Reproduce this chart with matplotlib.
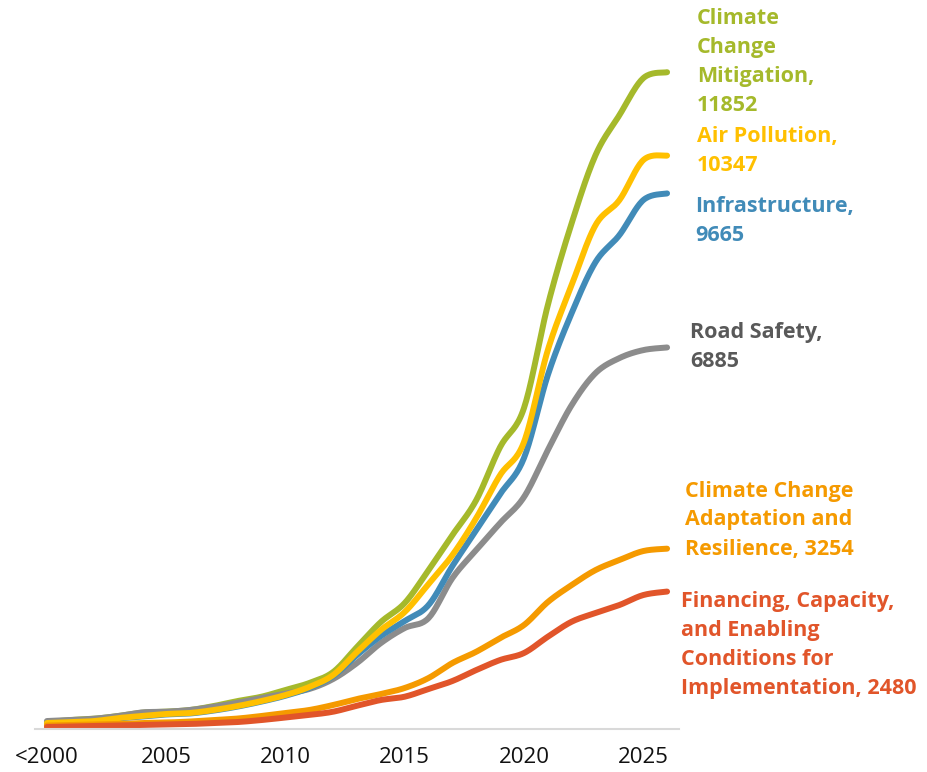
import numpy as np
import matplotlib
matplotlib.use("Agg")
import matplotlib.pyplot as plt

plt.rcParams['font.family'] = ['Open Sans', 'DejaVu Sans']

# ---- data -------------------------------------------------------------
categories = ['<2000'] + [str(y) for y in range(2001, 2027)]
tick_labels = ['<2000', '2005', '2010', '2015', '2020', '2025']

mitigation = [126, 162, 186, 235, 294, 312, 343, 415, 505, 583, 704, 830, 1028,
              1479, 1930, 2273, 2868, 3500, 4131, 5087, 5791, 7649, 9128,
              10355, 11076, 11744, 11852]
road_safety = [144, 162, 186, 235, 300, 312, 343, 402, 474, 559, 640, 722, 902,
               1191, 1551, 1822, 2002, 2724, 3229, 3716, 4185, 5033, 5845,
               6422, 6693, 6837, 6885]
infrastructure = [100, 118, 136, 190, 225, 262, 280, 333, 405, 495, 600, 740, 956,
                  1335, 1678, 1948, 2237, 2941, 3590, 4239, 4889, 6386, 7505,
                  8425, 8912, 9543, 9665]
air_pollution = [108, 126, 144, 198, 235, 271, 289, 343, 415, 505, 613, 758, 974,
                 1389, 1786, 2111, 2616, 3139, 3806, 4582, 5177, 6837, 8010,
                 9092, 9543, 10265, 10347]
adaptation = [63, 72, 81, 90, 108, 117, 135, 162, 189, 235, 289, 343, 433,
              541, 631, 740, 920, 1191, 1394, 1642, 1876, 2291, 2598,
              2868, 3049, 3211, 3254]
financing = [36, 45, 54, 63, 72, 81, 90, 108, 126, 162, 207, 253, 312,
             420, 523, 583, 722, 866, 1064, 1245, 1371, 1665, 1936,
             2093, 2237, 2417, 2480]

series_names = ['Climate\nChange\nMitigation,\n11852',
                'Road Safety,\n6885',
                'Infrastructure,\n9665',
                'Air Pollution,\n10347',
                'Climate Change\nAdaptation and\nResilience, 3254',
                'Financing, Capacity,\nand Enabling\nConditions for\nImplementation, 2480']
series_values = [mitigation, road_safety, infrastructure, air_pollution,
                 adaptation, financing]
line_colors = ['#A5B92B', '#8C8C8C', '#418BB8', '#FFC000', '#F59A00', '#E1552A']
text_colors = ['#A5B92B', '#595959', '#418BB8', '#FFC000', '#F59A00', '#E1552A']
# label anchor (figure pixels: left x, centre y)
label_pos = [(697, 62), (690, 347), (695, 221), (697, 151), (685, 520), (681, 645)]


def smooth(x, y, n=20):
    x = np.asarray(x, float)
    y = np.asarray(y, float)
    px = np.concatenate([[x[0]], x, [x[-1]]])
    py = np.concatenate([[y[0]], y, [y[-1]]])
    xs, ys = [], []
    t = np.linspace(0, 1, n, endpoint=False)
    for i in range(1, len(px) - 2):
        p0, p1, p2, p3 = (np.array([px[j], py[j]]) for j in (i - 1, i, i + 1, i + 2))
        c1 = p1 + (p2 - p0) / 6.0
        c2 = p2 - (p3 - p1) / 6.0
        pts = ((1 - t)[:, None] ** 3 * p1 + 3 * ((1 - t) ** 2 * t)[:, None] * c1
               + 3 * ((1 - t) * t ** 2)[:, None] * c2 + (t ** 3)[:, None] * p2)
        xs.append(pts[:, 0]); ys.append(pts[:, 1])
    xs.append([x[-1]]); ys.append([y[-1]])
    return np.concatenate(xs), np.concatenate(ys)


W, H = 928, 772
fig = plt.figure(figsize=(W / 100, H / 100), dpi=100)
ax = fig.add_axes([35 / W, 43 / H, 644 / W, 665 / H])

xidx = np.arange(len(categories))
for vals, col in zip(series_values, line_colors):
    sx, sy = smooth(xidx, vals)
    ax.plot(sx, sy, color=col, lw=4.3, solid_capstyle='round',
            solid_joinstyle='round', clip_on=False)

ax.set_xlim(-0.5, len(categories) - 0.5)
ax.set_ylim(0, 12000)
ax.set_xticks([categories.index(t) for t in tick_labels])
ax.set_xticklabels(tick_labels, fontsize=16, color='#111111')
ax.tick_params(axis='x', length=0, pad=13)
ax.set_yticks([])
for s in ['top', 'right', 'left']:
    ax.spines[s].set_visible(False)
ax.spines['bottom'].set_color('#D9D9D9')
ax.spines['bottom'].set_linewidth(1.5)

for name, col, (px, py) in zip(series_names, text_colors, label_pos):
    fig.text(px / W, 1 - py / H, name, color=col, fontsize=15.5,
             fontweight='bold', ha='left', va='center', linespacing=1.5)

fig.savefig('out.png', dpi=100)
